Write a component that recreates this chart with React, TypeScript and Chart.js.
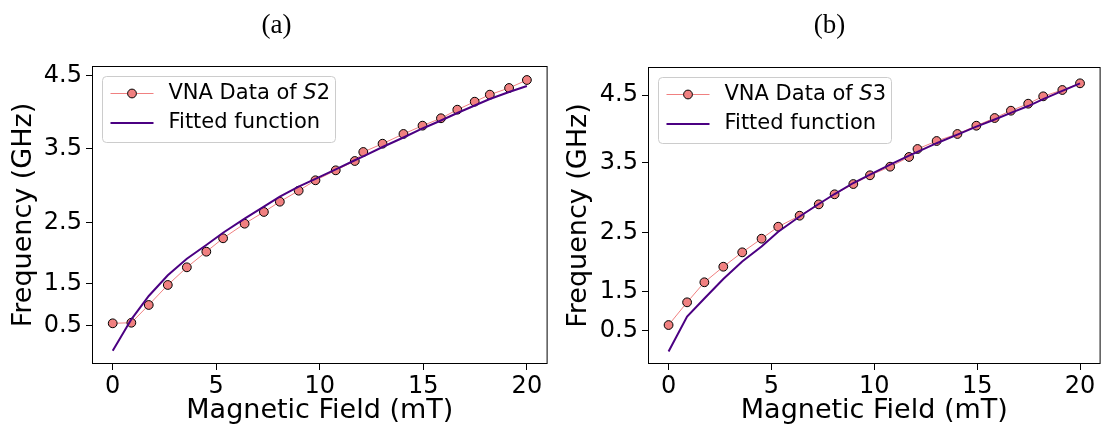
import React, { useEffect, useRef } from 'react';
import { Chart, registerables } from 'chart.js';

Chart.register(...registerables);

// Magnetic field values (mT), shared by both panels
const FIELD_MT = [0, 0.9, 1.74, 2.66, 3.58, 4.52, 5.33, 6.37, 7.3, 8.07, 8.98, 9.79, 10.77, 11.69, 12.1, 13.03, 14.04, 14.96, 15.85, 16.64, 17.48, 18.21, 19.14, 20];

// Panel (a): S2
const S2_DATA = [1.122, 1.13, 1.372, 1.645, 1.886, 2.099, 2.282, 2.481, 2.641, 2.781, 2.931, 3.073, 3.209, 3.336, 3.459, 3.572, 3.705, 3.818, 3.919, 4.036, 4.145, 4.241, 4.332, 4.441];
const S2_FIT = [0.748, 1.177, 1.495, 1.777, 2.003, 2.19, 2.358, 2.549, 2.713, 2.849, 2.986, 3.093, 3.223, 3.346, 3.4, 3.527, 3.657, 3.78, 3.889, 3.991, 4.093, 4.182, 4.278, 4.359];

// Panel (b): S3
const S3_DATA = [1.159, 1.489, 1.78, 2.006, 2.215, 2.413, 2.587, 2.747, 2.912, 3.058, 3.207, 3.334, 3.459, 3.6, 3.716, 3.832, 3.934, 4.054, 4.166, 4.272, 4.374, 4.481, 4.573, 4.67];
const S3_FIT = [0.775, 1.283, 1.544, 1.828, 2.082, 2.3, 2.515, 2.735, 2.917, 3.062, 3.222, 3.345, 3.49, 3.62, 3.675, 3.8, 3.925, 4.04, 4.145, 4.24, 4.34, 4.44, 4.56, 4.67];

// Axis ticks
const X_TICKS = [0, 5, 10, 15, 20];
const Y_TICK_LABELS = ['0.5', '1.5', '2.5', '3.5', '4.5'];
const S2_Y_TICKS = [1.089, 1.662, 2.5, 3.509, 4.5];
const S3_Y_TICKS = [1.077, 1.643, 2.5, 3.517, 4.5];
const S2_Y_RANGE = [0.567, 4.632];
const S3_Y_RANGE = [0.593, 4.907];
const X_RANGE = [-1, 21];

const FONT = "'DejaVu Sans', sans-serif";
const DATA_COLOR = '#F08080';
const FIT_COLOR = '#4B0082';
const CANVAS_W = 553;
const CANVAS_H = 435;
const LEGEND_SIZE = 21;

const framePlugin = {
  id: 'frame',
  afterDraw(chart: any) {
    const { ctx, chartArea: a } = chart;
    ctx.save();
    ctx.strokeStyle = '#000';
    ctx.lineWidth = 1;
    ctx.strokeRect(a.left + 0.5, a.top + 0.5, a.right - a.left - 1, a.bottom - a.top - 1);
    ctx.restore();
  },
};

const legendPlugin = {
  id: 'boxLegend',
  afterDraw(chart: any, _args: any, opts: any) {
    if (!opts || !opts.suffix) return;
    const { ctx, chartArea: a } = chart;
    const x0 = Math.round(a.left + 10) + 0.5;
    const y0 = Math.round(a.top + 10) + 0.5;
    const w = 233;
    const h = 66;
    ctx.save();
    ctx.beginPath();
    if (ctx.roundRect) ctx.roundRect(x0, y0, w, h, 4);
    else ctx.rect(x0, y0, w, h);
    ctx.fillStyle = 'rgba(255,255,255,0.8)';
    ctx.fill();
    ctx.strokeStyle = '#cccccc';
    ctx.lineWidth = 1;
    ctx.stroke();

    const r1 = y0 + 17;
    const r2 = y0 + 46.5;
    ctx.strokeStyle = DATA_COLOR;
    ctx.lineWidth = 1;
    ctx.beginPath();
    ctx.moveTo(x0 + 8, r1);
    ctx.lineTo(x0 + 51, r1);
    ctx.stroke();
    ctx.beginPath();
    ctx.arc(x0 + 29.5, r1, 4.4, 0, Math.PI * 2);
    ctx.fillStyle = DATA_COLOR;
    ctx.fill();
    ctx.strokeStyle = '#000';
    ctx.stroke();

    ctx.strokeStyle = FIT_COLOR;
    ctx.lineWidth = 2;
    ctx.beginPath();
    ctx.moveTo(x0 + 8, r2);
    ctx.lineTo(x0 + 51, r2);
    ctx.stroke();

    ctx.fillStyle = '#000';
    ctx.textBaseline = 'middle';
    ctx.textAlign = 'left';
    let tx = x0 + 66;
    ctx.font = `${LEGEND_SIZE}px ${FONT}`;
    const pre = 'VNA Data of ';
    ctx.fillText(pre, tx, r1);
    tx += ctx.measureText(pre).width;
    ctx.font = `italic ${LEGEND_SIZE}px ${FONT}`;
    ctx.fillText('S', tx, r1);
    tx += ctx.measureText('S').width;
    ctx.font = `${LEGEND_SIZE}px ${FONT}`;
    ctx.fillText(opts.suffix, tx, r1);
    ctx.fillText('Fitted function', x0 + 66, r2);
    ctx.restore();
  },
};

type PanelProps = {
  offsetX: number;
  caption: string;
  data: number[];
  fit: number[];
  yTicks: number[];
  yRange: number[];
  suffix: string;
  area: { left: number; top: number; right: number; bottom: number };
  yTitlePad: number;
};

function Panel(props: PanelProps) {
  const ref = useRef<HTMLCanvasElement | null>(null);
  useEffect(() => {
    if (!ref.current) return;
    const { area } = props;
    const tickFont = { family: FONT, size: 24 };
    const titleFont = { family: FONT, size: 27 };
    const chart = new Chart(ref.current, {
      type: 'line',
      data: {
        datasets: [
          {
            label: 'Fitted function',
            data: FIELD_MT.map((x, i) => ({ x, y: props.fit[i] })),
            borderColor: FIT_COLOR,
            borderWidth: 2,
            pointRadius: 0,
            tension: 0,
            fill: false,
            order: 0,
          },
          {
            label: 'VNA Data of S' + props.suffix,
            data: FIELD_MT.map((x, i) => ({ x, y: props.data[i] })),
            borderColor: DATA_COLOR,
            borderWidth: 1,
            pointRadius: 4.4,
            pointBackgroundColor: DATA_COLOR,
            pointBorderColor: '#000',
            pointBorderWidth: 1,
            tension: 0,
            fill: false,
            order: 1,
          },
        ],
      },
      options: {
        responsive: false,
        animation: false,
        events: [],
        layout: {
          padding: { top: area.top, right: CANVAS_W - area.right, bottom: 0, left: 0 },
        },
        plugins: {
          legend: { display: false },
          tooltip: { enabled: false },
          boxLegend: { suffix: props.suffix },
        } as any,
        scales: {
          x: {
            type: 'linear',
            min: X_RANGE[0],
            max: X_RANGE[1],
            afterBuildTicks: (s: any) => {
              s.ticks = X_TICKS.map((v) => ({ value: v }));
            },
            afterFit: (s: any) => {
              s.height = CANVAS_H - area.bottom;
            },
            ticks: {
              font: tickFont,
              color: '#000',
              padding: 2,
              maxRotation: 0,
              autoSkip: false,
              callback: (v: any) => String(v),
            },
            grid: { drawOnChartArea: false, drawTicks: true, tickLength: 6, color: '#000', lineWidth: 1 },
            border: { display: false },
            title: {
              display: true,
              text: 'Magnetic Field (mT)',
              font: titleFont,
              color: '#000',
              padding: { top: 0, bottom: 8 },
            },
          },
          y: {
            type: 'linear',
            min: props.yRange[0],
            max: props.yRange[1],
            afterBuildTicks: (s: any) => {
              s.ticks = props.yTicks.map((v) => ({ value: v }));
            },
            afterFit: (s: any) => {
              s.width = area.left;
            },
            ticks: {
              font: tickFont,
              color: '#000',
              padding: 4,
              autoSkip: false,
              callback: (_v: any, i: number) => Y_TICK_LABELS[i],
            },
            grid: { drawOnChartArea: false, drawTicks: true, tickLength: 6, color: '#000', lineWidth: 1 },
            border: { display: false },
            title: {
              display: true,
              text: 'Frequency (GHz)',
              font: titleFont,
              color: '#000',
              padding: { top: props.yTitlePad, bottom: 0 },
            },
          },
        },
      } as any,
      plugins: [framePlugin, legendPlugin],
    });
    return () => chart.destroy();
  }, []);

  return (
    <div style={{ position: 'absolute', left: props.offsetX, top: 0, width: CANVAS_W, height: CANVAS_H }}>
      <canvas ref={ref} width={CANVAS_W} height={CANVAS_H} style={{ width: CANVAS_W, height: CANVAS_H, display: 'block' }} />
      <div
        style={{
          position: 'absolute',
          left: 0,
          top: 9,
          width: CANVAS_W,
          textAlign: 'center',
          fontFamily: "'Liberation Serif', 'DejaVu Serif', serif",
          fontSize: 27,
          lineHeight: '30px',
          color: '#000',
        }}
      >
        {props.caption}
      </div>
    </div>
  );
}

export default function App() {
  return (
    <div style={{ position: 'absolute', left: 0, top: 0, width: 1106, height: 435, background: '#fff' }}>
      <Panel
        offsetX={0}
        caption="(a)"
        data={S2_DATA}
        fit={S2_FIT}
        yTicks={S2_Y_TICKS}
        yRange={S2_Y_RANGE}
        suffix="2"
        area={{ left: 92, top: 66, right: 548, bottom: 364 }}
        yTitlePad={8}
      />
      <Panel
        offsetX={553}
        caption="(b)"
        data={S3_DATA}
        fit={S3_FIT}
        yTicks={S3_Y_TICKS}
        yRange={S3_Y_RANGE}
        suffix="3"
        area={{ left: 95, top: 67, right: 551, bottom: 364 }}
        yTitlePad={10}
      />
    </div>
  );
}
